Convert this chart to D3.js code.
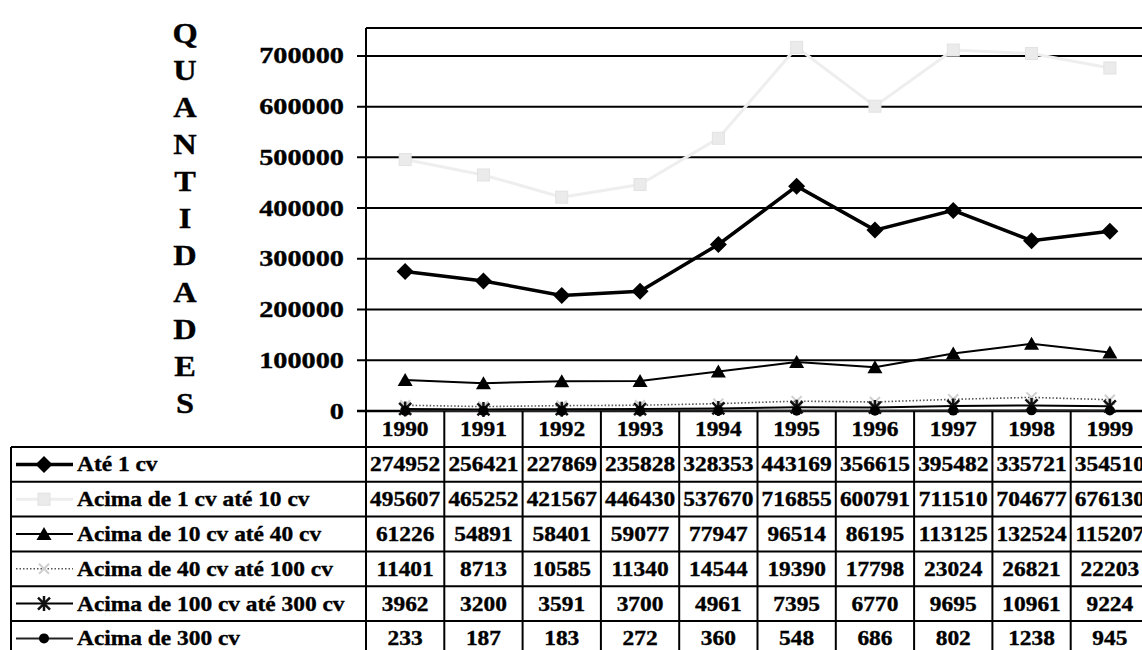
<!DOCTYPE html>
<html>
<head>
<meta charset="utf-8">
<script src="https://cdn.jsdelivr.net/npm/d3@7"></script>
<style>
  body { margin: 0; background: #fff; }
  svg { display: block; }
  text { font-family: "Liberation Serif", "Times New Roman", serif; font-weight: bold; fill: #000;
         stroke: #000; stroke-width: 0.35px; }
</style>
</head>
<body>
<div class="chart"></div>
<script>
// Données
const years = [1990, 1991, 1992, 1993, 1994, 1995, 1996, 1997, 1998, 1999]
const ate1 = [274952, 256421, 227869, 235828, 328353, 443169, 356615, 395482, 335721, 354510]
const de1a10 = [495607, 465252, 421567, 446430, 537670, 716855, 600791, 711510, 704677, 676130]
const de10a40 = [61226, 54891, 58401, 59077, 77947, 96514, 86195, 113125, 132524, 115207]
const de40a100 = [11401, 8713, 10585, 11340, 14544, 19390, 17798, 23024, 26821, 22203]
const de100a300 = [3962, 3200, 3591, 3700, 4961, 7395, 6770, 9695, 10961, 9224]
const acima300 = [233, 187, 183, 272, 360, 548, 686, 802, 1238, 945]
const seriesNames = ['Até 1 cv', 'Acima de 1 cv até 10 cv', 'Acima de 10 cv até 40 cv',
    'Acima de 40 cv até 100 cv', 'Acima de 100 cv até 300 cv', 'Acima de 300 cv']
const yTicks = [0, 100000, 200000, 300000, 400000, 500000, 600000, 700000]
const axisTitle = 'QUANTIDADES'

// Dimensions
const width = 1142,
    height = 650
const plot = { left: 366, top: 28, bottom: 411 }
const colW = 78.3
const tableLeft = 11,
    rowTop = 447,
    rowH = 34.8

const svg = d3.select('.chart')
    .append('svg')
    .attr('width', width)
    .attr('height', height)

// Échelles
const x = d3.scaleBand()
    .domain(years)
    .range([plot.left, plot.left + colW * years.length])
const y = d3.scaleLinear()
    .domain([0, 755000])
    .range([plot.bottom, plot.top])
const row = d3.scaleBand()
    .domain(seriesNames)
    .range([rowTop, rowTop + rowH * seriesNames.length])
const cx = d => x(d) + x.bandwidth() / 2

// Texte étiré horizontalement (le scan est plus large que le Times normal)
const label = (g, tx, ty, str, size, k, anchor) => g.append('text')
    .attr('transform', `translate(${tx},${ty}) scale(${k},1)`)
    .attr('font-size', size)
    .attr('text-anchor', anchor || 'start')
    .text(str)

// Titre vertical
const letterY = d3.scalePoint()
    .domain(d3.range(axisTitle.length))
    .range([33, 403])
axisTitle.split('').forEach((c, i) => label(svg, 185, letterY(i) + 10, c, 30, 1.08, 'middle'))

// Grille + graduations
const right = plot.left + colW * years.length
svg.append('g')
    .selectAll('line')
    .data(yTicks)
    .join('line')
    .attr('x1', plot.left - 9)
    .attr('x2', right)
    .attr('y1', d => y(d))
    .attr('y2', d => y(d))
    .attr('stroke', '#000')
    .attr('stroke-width', d => d === 0 ? 2.5 : 2)

yTicks.forEach(t => label(svg, 344, y(t) + 7.5, String(t), 23, 1.23, 'end'))

// Cadre du graphe
svg.append('line')
    .attr('x1', plot.left).attr('x2', right)
    .attr('y1', plot.top).attr('y2', plot.top)
    .attr('stroke', '#000').attr('stroke-width', 2)

// Symboles
const markers = {
    diamond: g => g.append('path').attr('d', 'M0,-8.5L8.5,0L0,8.5L-8.5,0Z').attr('fill', '#000'),
    square: g => g.append('rect').attr('x', -6).attr('y', -6).attr('width', 12).attr('height', 12)
        .attr('fill', '#ebebeb').attr('stroke', '#e2e2e2'),
    triangle: g => g.append('path').attr('d', 'M0,-7L7.5,6L-7.5,6Z').attr('fill', '#000'),
    times: g => g.append('path').attr('d', 'M-5,-5L5,5M5,-5L-5,5')
        .attr('stroke', '#cfcfcf').attr('stroke-width', 2).attr('fill', 'none'),
    asterisk: g => g.append('path').attr('d', 'M-6,-6L6,6M6,-6L-6,6M0,-7.5V7.5')
        .attr('stroke', '#111').attr('stroke-width', 2.5).attr('fill', 'none'),
    circle: g => g.append('circle').attr('r', 5).attr('fill', '#000')
}

const series = [
    { name: seriesNames[0], values: ate1, color: '#000', w: 3.5, dash: null, marker: 'diamond' },
    { name: seriesNames[1], values: de1a10, color: '#eeeeee', w: 3, dash: null, marker: 'square' },
    { name: seriesNames[2], values: de10a40, color: '#000', w: 2, dash: null, marker: 'triangle' },
    { name: seriesNames[3], values: de40a100, color: '#555', w: 1.6, dash: '1.5,2', marker: 'times' },
    { name: seriesNames[4], values: de100a300, color: '#000', w: 2, dash: null, marker: 'asterisk' },
    { name: seriesNames[5], values: acima300, color: '#222', w: 2, dash: null, marker: 'circle' }
]

const line = d3.line()
    .x((d, i) => cx(years[i]))
    .y(d => y(d))

// Lignes et points
series.forEach(s => {
    const g = svg.append('g')
    g.append('path')
        .attr('d', line(s.values))
        .attr('fill', 'none')
        .attr('stroke', s.color)
        .attr('stroke-width', s.w)
        .attr('stroke-dasharray', s.dash)
    s.values.forEach((v, i) => {
        const m = g.append('g').attr('transform', `translate(${cx(years[i])},${y(v)})`)
        markers[s.marker](m)
    })
})

// Tableau de données
const table = svg.append('g')
const bottom = rowTop + rowH * seriesNames.length

// lignes horizontales
d3.range(seriesNames.length + 1).forEach(i => {
    const yy = rowTop + rowH * i
    table.append('line')
        .attr('x1', tableLeft).attr('x2', right)
        .attr('y1', yy).attr('y2', yy)
        .attr('stroke', '#000').attr('stroke-width', 2)
})
// lignes verticales
table.append('line')
    .attr('x1', tableLeft).attr('x2', tableLeft)
    .attr('y1', rowTop).attr('y2', bottom)
    .attr('stroke', '#000').attr('stroke-width', 2)
years.concat([null]).forEach((yr, i) => {
    const xx = plot.left + colW * i
    table.append('line')
        .attr('x1', xx).attr('x2', xx)
        .attr('y1', i === 0 ? plot.top : plot.bottom).attr('y2', bottom)
        .attr('stroke', '#000').attr('stroke-width', 2)
})

// années
years.forEach(yr => label(table, cx(yr), 436, String(yr), 20, 1.17, 'middle'))

// lignes du tableau : légende + valeurs
series.forEach(s => {
    const yc = row(s.name) + row.bandwidth() / 2
    const lg = table.append('g')
    lg.append('line')
        .attr('x1', 16).attr('x2', 73)
        .attr('y1', yc).attr('y2', yc)
        .attr('stroke', s.color)
        .attr('stroke-width', s.w)
        .attr('stroke-dasharray', s.dash)
    markers[s.marker](lg.append('g').attr('transform', `translate(44,${yc})`))
    label(table, 77, yc + 7, s.name, 20, 1.17, 'start')
    s.values.forEach((v, i) => label(table, cx(years[i]), yc + 7, String(v), 20, 1.17, 'middle'))
})
</script>
</body>
</html>
